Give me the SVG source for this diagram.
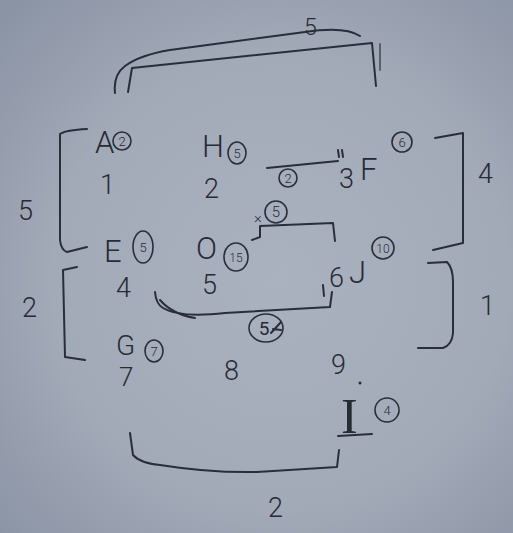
<svg xmlns="http://www.w3.org/2000/svg" width="513" height="533" viewBox="0 0 513 533">
<defs>
<radialGradient id="bg" cx="280" cy="280" r="380" gradientUnits="userSpaceOnUse">
<stop offset="0" stop-color="#abb2bf"/>
<stop offset="0.6" stop-color="#a2a9b7"/>
<stop offset="1" stop-color="#8b94a5"/>
</radialGradient>
<style>
.t{font-family:Roboto,"DejaVu Sans",sans-serif;font-weight:300;fill:#262b36}
.L{font-size:31px}
.D{font-size:27px}
.c{font-size:13px;text-anchor:middle}
.s{fill:none;stroke:#292e3a;stroke-width:2;stroke-linecap:round;stroke-linejoin:round}
.r{fill:none;stroke:#292e3a;stroke-width:1.6}
</style>
</defs>
<rect width="513" height="533" fill="url(#bg)"/>

<g id="connectors">
<path class="s" d="M115,93 Q113,75 125,66 Q140,55 170,50 L305,32 Q345,26 360,36"/>
<path class="s" d="M128,92 L132,68 L372,43 L376,86"/>
<path class="s" d="M380,44 L380,70" stroke-width="1" opacity="0.6"/>
<text class="t" x="304" y="35" style="font-size:23px">5</text>

<path class="s" d="M87,129 Q66,130 60,134 L60,240 Q61,250 67,252 L87,247"/>
<text class="t D" x="18" y="220">5</text>
<path class="s" d="M77,267 L63,270 L65,357 L85,360"/>
<text class="t D" x="22" y="317">2</text>
<path class="s" d="M435,138 L463,133 L463,243 L433,250"/>
<text class="t D" x="478" y="183">4</text>
<path class="s" d="M428,263 L447,262 Q453,268 453,282 L453,333 Q452,345 443,348 L418,348"/>
<text class="t D" x="480" y="315">1</text>
<path class="s" d="M130,433 L133,455 Q140,463 160,465 Q210,473 257,472 L337,467 L339,450"/>
<text class="t D" x="268" y="517">2</text>

<path class="s" d="M267,168 L338,161"/>
<path class="s" d="M338,150 L339,157 M342,150 L343,157" stroke-width="1.2"/>
<circle class="r" cx="288" cy="178" r="9"/>
<text class="t c" x="288" y="183">2</text>

<path class="s" d="M252,240 L260,237 L260,226 L333,223 L335,241"/>
<text class="t" x="254" y="223" style="font-size:15px">×</text>
<circle class="r" cx="276" cy="212" r="11"/>
<text class="t c" x="276" y="217" style="font-size:15px">5</text>

<path class="s" d="M155,292 Q156,304 163,308 Q180,318 225,313 L330,307 L332,292"/>
<path class="s" d="M160,300 Q172,314 195,318" stroke-width="1.2"/>
<ellipse class="r" cx="266" cy="328" rx="17" ry="14"/>
<text class="t c" x="264" y="335" style="font-size:19px;font-weight:400">5</text>
<path class="s" d="M271,333 L281,322 M273,329 L281,330" stroke-width="1.3"/>
</g>

<g id="node-A">
<text class="t L" x="95" y="153">A</text>
<circle class="r" cx="122" cy="141" r="9"/>
<text class="t c" x="122" y="146">2</text>
<text class="t D" x="100" y="194">1</text>
</g>
<g id="node-H">
<text class="t L" x="202" y="157">H</text>
<ellipse class="r" cx="237" cy="153" rx="9" ry="11"/>
<text class="t c" x="237" y="158">5</text>
<text class="t D" x="204" y="198">2</text>
</g>
<g id="node-F">
<text class="t D" x="339" y="188">3</text>
<text class="t L" x="360" y="180">F</text>
<circle class="r" cx="402" cy="142" r="10"/>
<text class="t c" x="402" y="147">6</text>
</g>
<g id="node-E">
<text class="t L" x="104" y="262">E</text>
<ellipse class="r" cx="143" cy="247" rx="10" ry="16"/>
<text class="t c" x="143" y="252">5</text>
<text class="t D" x="116" y="297">4</text>
</g>
<g id="node-O">
<text class="t L" x="196" y="259">O</text>
<ellipse class="r" cx="236" cy="257" rx="12" ry="14"/>
<text class="t c" x="236" y="262" style="font-size:12px">15</text>
<text class="t D" x="202" y="294">5</text>
</g>
<g id="node-J">
<text class="t D" x="329" y="287">6</text>
<path class="s" d="M323,285 L324,296" stroke-width="1.2"/>
<text class="t L" x="349" y="283">J</text>
<circle class="r" cx="383" cy="248" r="11"/>
<text class="t c" x="383" y="253" style="font-size:12px">10</text>
</g>
<g id="node-G">
<text class="t" x="116" y="355" style="font-size:28px">G</text>
<ellipse class="r" cx="154" cy="351" rx="9" ry="11"/>
<text class="t c" x="154" y="356">7</text>
<text class="t" x="119" y="386" style="font-size:26px">7</text>
</g>
<g id="node-8">
<text class="t D" x="224" y="380">8</text>
</g>
<g id="node-9">
<text class="t D" x="331" y="374">9</text>
<circle cx="360" cy="383" r="1.5" fill="#292e3a"/>
</g>
<g id="node-I">
<text x="341" y="433" font-family="Liberation Serif,serif" font-size="50" fill="#262b36">I</text>
<path class="s" d="M338,436 L372,434" stroke-width="1.5"/>
<circle class="r" cx="387" cy="410" r="12"/>
<text class="t c" x="387" y="415">4</text>
</g>
</svg>
